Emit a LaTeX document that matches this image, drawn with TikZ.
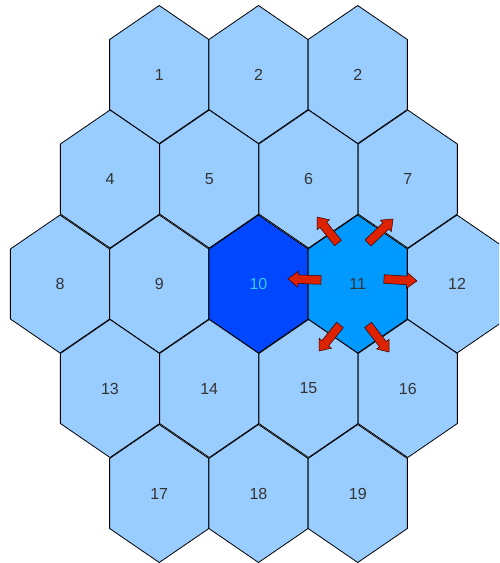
\documentclass[tikz,border=0pt]{standalone}
\usepackage{fontspec}
\setmainfont{Liberation Sans}
\usetikzlibrary{positioning,arrows.meta}
\definecolor{cellblue}{HTML}{99CCFF}
\definecolor{ownblue}{HTML}{0047FF}
\definecolor{nbrblue}{HTML}{0099FF}
\definecolor{owntext}{HTML}{33CCFF}
\definecolor{labelgray}{HTML}{333333}
\definecolor{arrowred}{HTML}{DD2200}

% block arrow: tail point, angle, length
\newcommand{\moveArrow}[3]{%
  \draw[movearrow, shift={(#1)}, rotate=#2]
    (0pt,-4.3pt) -- (#3pt-10pt,-4.3pt) -- (#3pt-10pt,-8pt) -- (#3pt,0pt)
    -- (#3pt-10pt,8pt) -- (#3pt-10pt,4.3pt) -- (0pt,4.3pt) -- cycle;}

\begin{document}
\begin{tikzpicture}[
  x=1pt, y=-1pt,
  hexcell/.style={draw=black, line width=0.8pt, line join=miter},
  hexlabel/.style={font=\fontsize{16}{19}\selectfont, text=labelgray, inner sep=1pt},
  movearrow/.style={draw=black!80!red, line width=0.5pt, fill=arrowred}
]
\useasboundingbox (0,0) rectangle (499,563);
\clip (0,0) rectangle (499,563);

% cells: x / y / label / name / fill / text colour
\foreach \cx/\cy/\lbl/\name/\fcol/\tcol in {
    159.25/74.5/1/c1/cellblue/labelgray, 258.5/74.5/2/c2/cellblue/labelgray, 357.75/74.5/2/c3/cellblue/labelgray,
    110/179/4/c4/cellblue/labelgray, 209.25/179/5/c5/cellblue/labelgray, 308.5/179/6/c6/cellblue/labelgray, 407.75/179/7/c7/cellblue/labelgray,
    60/284/8/c8/cellblue/labelgray, 159.25/284/9/c9/cellblue/labelgray, 258.5/284/10/c10/ownblue/owntext, 357.75/284/11/c11/nbrblue/labelgray, 457/284/12/c12/cellblue/labelgray,
    110/388.5/13/c13/cellblue/labelgray, 209.25/388.5/14/c14/cellblue/labelgray, 308.5/388.5/15/c15/cellblue/labelgray, 407.75/388.5/16/c16/cellblue/labelgray,
    159.25/493.5/17/c17/cellblue/labelgray, 258.5/493.5/18/c18/cellblue/labelgray, 357.75/493.5/19/c19/cellblue/labelgray} {
  \draw[hexcell, fill=\fcol] (\cx,\cy) +(0,-69) -- +(49.625,-35) -- +(49.625,35)
    -- +(0,69) -- +(-49.625,35) -- +(-49.625,-35) -- cycle;
  \node[hexlabel, text=\tcol] (\name) at (\cx,\cy) {\lbl};
}

% moves out of cell 11
\moveArrow{338,243}{128.9}{33.4}
\moveArrow{368,243}{43.8}{34.7}
\moveArrow{321,280}{178}{33}
\moveArrow{384,279}{-3.5}{33}
\moveArrow{340,325}{231.1}{33.4}
\moveArrow{368,325}{-52.1}{34.2}
\end{tikzpicture}
\end{document}
